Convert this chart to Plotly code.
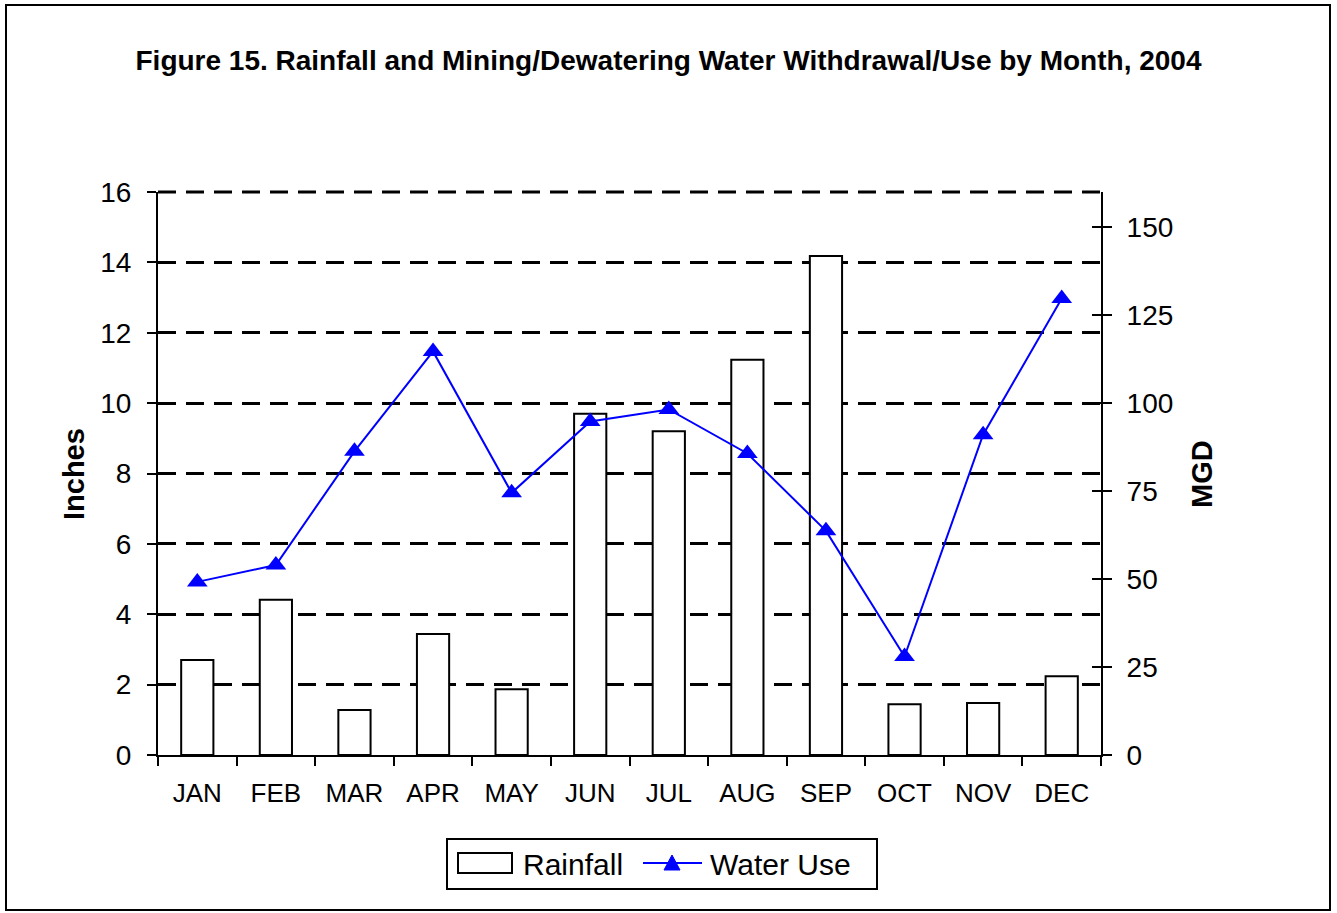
import plotly.graph_objects as go

months = ['JAN', 'FEB', 'MAR', 'APR', 'MAY', 'JUN', 'JUL', 'AUG', 'SEP', 'OCT', 'NOV', 'DEC']
rainfall = [2.70, 4.41, 1.28, 3.44, 1.87, 9.70, 9.20, 11.23, 14.18, 1.44, 1.48, 2.24]
water_use = [49.2, 54.0, 86.3, 114.7, 74.5, 94.8, 98.2, 85.7, 63.7, 28.0, 91.0, 129.7]

W, H = 1337, 913
# plot area in pixels
L, R, T, B = 158, 1101, 192, 755

def px(x):
    return (x - L) / (R - L)

def py(y):
    return (B - y) / (B - T)

FONT = 'Liberation Sans, Arial, sans-serif'
BLUE = '#0000FF'
DASH = '18px,10px'

fig = go.Figure()

fig.add_trace(go.Bar(
    x=months, y=rainfall, name='Rainfall',
    marker=dict(color='white', line=dict(color='black', width=2)),
    yaxis='y', showlegend=False
))
fig.add_trace(go.Scatter(
    x=months, y=water_use, name='Water Use', mode='lines+markers',
    line=dict(color=BLUE, width=2),
    marker=dict(symbol='triangle-up', size=18, color=BLUE),
    yaxis='y2', showlegend=False
))
# empty trace so the inward half of the crossing ticks on the right axis shows
fig.add_trace(go.Scatter(x=[months[0]], y=[None], yaxis='y3', showlegend=False, hoverinfo='skip'))

shapes = [
    # outer frame
    dict(type='rect', xref='paper', yref='paper',
         x0=px(6), x1=px(1330), y0=py(910), y1=py(5),
         line=dict(color='black', width=2), layer='below'),
    # top gridline at 16
    dict(type='line', xref='paper', yref='paper', x0=0, x1=1, y0=1, y1=1,
         line=dict(color='black', width=3, dash=DASH), layer='below'),
    # legend box
    dict(type='rect', xref='paper', yref='paper',
         x0=px(447), x1=px(877), y0=py(889), y1=py(839),
         line=dict(color='black', width=2), fillcolor='white'),
    # legend key: rainfall
    dict(type='rect', xref='paper', yref='paper',
         x0=px(458), x1=px(512), y0=py(873), y1=py(853),
         line=dict(color='black', width=2), fillcolor='white'),
    # legend key: water use line
    dict(type='line', xref='paper', yref='paper',
         x0=px(643), x1=px(702), y0=py(863), y1=py(863),
         line=dict(color=BLUE, width=2)),
    dict(type='path', xref='paper', yref='paper',
         path='M {} {} L {} {} L {} {} Z'.format(px(664), py(870), px(680), py(870), px(672), py(855)),
         line=dict(color=BLUE, width=1), fillcolor=BLUE),
]

annotations = [
    dict(text='<b>Inches</b>', x=px(74), y=py(474), xref='paper', yref='paper',
         xanchor='center', yanchor='middle',
         showarrow=False, textangle=-90, font=dict(size=29)),
    dict(text='<b>MGD</b>', x=px(1202), y=py(474), xref='paper', yref='paper',
         xanchor='center', yanchor='middle',
         showarrow=False, textangle=-90, font=dict(size=29)),
    dict(text='Rainfall', x=px(521), y=py(864), xref='paper', yref='paper',
         xanchor='left', yanchor='middle', showarrow=False, font=dict(size=30)),
    dict(text='Water Use', x=px(708), y=py(864), xref='paper', yref='paper',
         xanchor='left', yanchor='middle', showarrow=False, font=dict(size=30)),
]

fig.update_layout(
    width=W, height=H,
    margin=dict(l=L, r=W - R, t=T, b=H - B),
    paper_bgcolor='white', plot_bgcolor='white',
    font=dict(family=FONT, size=27, color='black'),
    showlegend=False,
    bargap=0.59,
    title=dict(
        text='<b>Figure 15. Rainfall and Mining/Dewatering Water Withdrawal/Use by Month, 2004</b>',
        x=0.5, xanchor='center', xref='container',
        y=1 - 60 / H, yanchor='middle', yref='container',
        font=dict(family=FONT, size=28, color='black')
    ),
    xaxis=dict(
        type='category', range=[-0.5, 11.5], showline=True, linecolor='black', linewidth=2,
        ticks='outside', ticklen=9, tickwidth=2, tickcolor='black',
        tickson='boundaries', showgrid=False, zeroline=False,
        tickfont=dict(size=26), ticklabelstandoff=14
    ),
    yaxis=dict(
        range=[0, 16], dtick=2, showline=True, linecolor='black', linewidth=2,
        ticks='outside', ticklen=9, tickwidth=2, tickcolor='black',
        showgrid=True, gridcolor='black', gridwidth=3, griddash=DASH,
        zeroline=False, tickfont=dict(size=28), ticklabelstandoff=10
    ),
    yaxis2=dict(
        range=[0, 160], dtick=25, overlaying='y', side='right',
        showline=True, linecolor='black', linewidth=2,
        ticks='outside', ticklen=9, tickwidth=2, tickcolor='black',
        showgrid=False, zeroline=False, tickfont=dict(size=28), ticklabelstandoff=9
    ),
    yaxis3=dict(
        range=[0, 160], dtick=25, overlaying='y', side='right',
        showline=False, ticks='inside', ticklen=9, tickwidth=2, tickcolor='black',
        showticklabels=False, showgrid=False, zeroline=False
    ),
    annotations=annotations,
    shapes=shapes
)

fig.write_html('out.html', config={'displayModeBar': False},
               post_script="document.body.style.margin='0';document.body.style.overflow='hidden';")
